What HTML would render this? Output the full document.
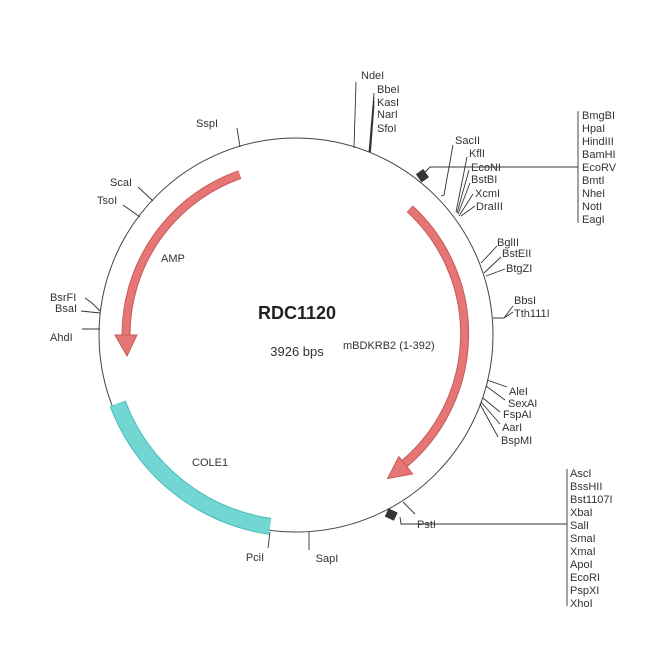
<!DOCTYPE html>
<html><head><meta charset="utf-8"><style>
html,body{margin:0;padding:0;background:#fff;}
svg text{font-family:"Liberation Sans",sans-serif;font-size:11px;fill:#333;}
</style></head><body>
<svg width="650" height="650" viewBox="0 0 650 650" xmlns="http://www.w3.org/2000/svg">
<rect width="650" height="650" fill="#fff"/>
<circle cx="296" cy="335" r="197" fill="none" stroke="#444" stroke-width="1"/>
<!-- COLE1 -->
<path d="M117.7 403.5 A192 192 0 0 0 270.1 526.3" fill="none" stroke="#4cbcb8" stroke-width="17"/>
<path d="M117.7 403.5 A192 192 0 0 0 270.1 526.3" fill="none" stroke="#72d6d3" stroke-width="15"/>
<!-- AMP -->
<path d="M239.8 174.6 A170 170 0 0 0 126 336" fill="none" stroke="#c85a5a" stroke-width="9"/>
<path d="M239.8 174.6 A170 170 0 0 0 126 336" fill="none" stroke="#e67676" stroke-width="7"/>
<polygon points="115,335 137,335 127,356" fill="#e67676" stroke="#c85a5a" stroke-width="1"/>
<!-- mBDKRB2 -->
<path d="M409.7 208.7 A170 170 0 0 1 404 464" fill="none" stroke="#c85a5a" stroke-width="9"/>
<path d="M409.7 208.7 A170 170 0 0 1 404 464" fill="none" stroke="#e67676" stroke-width="7"/>
<polygon points="398.8,456.6 412.7,473.9 387.6,478.6" fill="#e67676" stroke="#c85a5a" stroke-width="1"/>

<text x="297" y="319" text-anchor="middle" style="font-size:18px;font-weight:bold;fill:#222">RDC1120</text>
<text x="297" y="356" text-anchor="middle" style="font-size:13px">3926 bps</text>
<text x="343" y="349" style="font-size:11px">mBDKRB2 (1-392)</text>
<text x="161" y="262">AMP</text>
<text x="192" y="466">COLE1</text>

<g stroke="#333" stroke-width="0.9" fill="none">
<!-- top -->
<path d="M356 82 L354 148"/>
<path d="M374 93 L369 152 M374 97 L369.5 152 M374 101 L370 152 M374 105 L370.5 152"/>
<path d="M453 145 L444 195 L441 196"/>
<path d="M467 157 L456 212 M469 170 L457 213 M470 183 L458 214 M473 194 L459 216 M475 206 L461 216"/>
<path d="M425 172 L430 167 L578 167 M578 111 L578 223"/>
<!-- lower right box -->
<path d="M400 517 L401 524 L567 524 M567 469 L567 606"/>
<path d="M403 502 L415 514"/>
<!-- right -->
<path d="M481 263 L497 246 M484 273 L501 257 M486 276 L505 269"/>
<path d="M493 318 L504 318 L513 306 M504 318 L513 312"/>
<path d="M487 380 L507 387 M486 386 L505 400 M483 398 L500 412 M481 402 L500 424 M480 404 L498 437"/>
<!-- left -->
<path d="M237 128 L240 147"/>
<path d="M138 187 L153 201"/>
<path d="M123 205 L140 217"/>
<path d="M85 298 L92 303 L100 311 M81 311 L100 313"/>
<path d="M82 329 L100 329"/>
<!-- bottom -->
<path d="M270 532 L268 548"/>
<path d="M309 532 L309 550"/>
</g>
<rect x="418" y="171" width="9" height="10" fill="#333" transform="rotate(-35 422 176)"/>
<rect x="387" y="510" width="9" height="10" fill="#333" transform="rotate(-65 391 515)"/>

<text x="361" y="79">NdeI</text>
<text x="377" y="93">BbeI</text>
<text x="377" y="106">KasI</text>
<text x="377" y="118">NarI</text>
<text x="377" y="132">SfoI</text>
<text x="455" y="144">SacII</text>
<text x="469" y="157">KflI</text>
<text x="471" y="171">EcoNI</text>
<text x="471" y="183">BstBI</text>
<text x="475" y="197">XcmI</text>
<text x="476" y="210">DraIII</text>
<g>
<text x="582" y="119">BmgBI</text>
<text x="582" y="132">HpaI</text>
<text x="582" y="145">HindIII</text>
<text x="582" y="158">BamHI</text>
<text x="582" y="171">EcoRV</text>
<text x="582" y="184">BmtI</text>
<text x="582" y="197">NheI</text>
<text x="582" y="210">NotI</text>
<text x="582" y="223">EagI</text>
</g>
<text x="497" y="246">BglII</text>
<text x="502" y="257">BstEII</text>
<text x="506" y="272">BtgZI</text>
<text x="514" y="304">BbsI</text>
<text x="514" y="317">Tth111I</text>
<text x="509" y="395">AleI</text>
<text x="508" y="407">SexAI</text>
<text x="503" y="418">FspAI</text>
<text x="502" y="431">AarI</text>
<text x="501" y="444">BspMI</text>
<g>
<text x="570" y="477">AscI</text>
<text x="570" y="490">BssHII</text>
<text x="570" y="503">Bst1107I</text>
<text x="570" y="516">XbaI</text>
<text x="570" y="529">SalI</text>
<text x="570" y="542">SmaI</text>
<text x="570" y="555">XmaI</text>
<text x="570" y="568">ApoI</text>
<text x="570" y="581">EcoRI</text>
<text x="570" y="594">PspXI</text>
<text x="570" y="607">XhoI</text>
</g>
<text x="417" y="528">PstI</text>
<text x="207" y="127" text-anchor="middle">SspI</text>
<text x="110" y="186">ScaI</text>
<text x="97" y="204">TsoI</text>
<text x="50" y="301">BsrFI</text>
<text x="55" y="312">BsaI</text>
<text x="50" y="341">AhdI</text>
<text x="255" y="561" text-anchor="middle">PciI</text>
<text x="327" y="562" text-anchor="middle">SapI</text>
</svg>
</body></html>
